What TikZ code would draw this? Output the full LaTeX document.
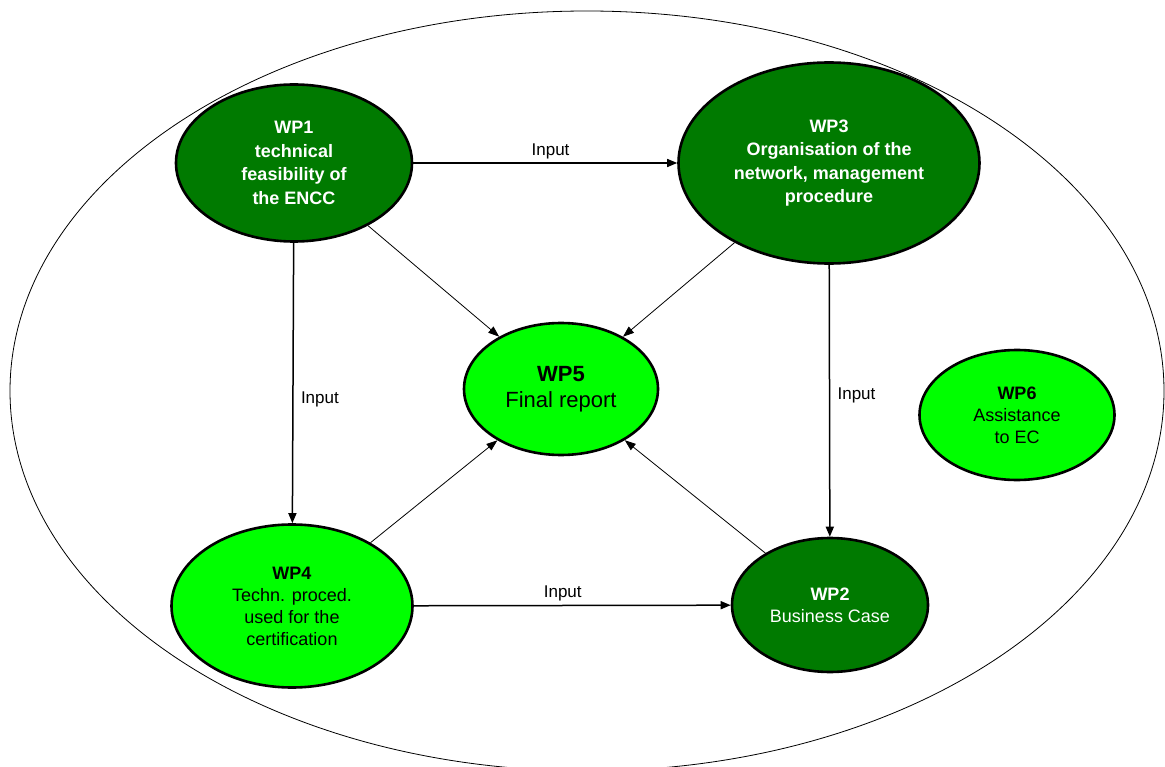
\documentclass[tikz,border=0pt]{standalone}
\usepackage{fontspec}
\setmainfont{Liberation Sans}
\usetikzlibrary{shapes.geometric,arrows.meta}
\definecolor{dkgreen}{RGB}{0,122,0}
\definecolor{ltgreen}{RGB}{0,255,0}
\begin{document}
\begin{tikzpicture}[x=1pt,y=-1pt,
 wp/.style={ellipse, draw=black, line width=2.6pt, inner sep=0pt, align=center},
 dark/.style={wp, fill=dkgreen, text=white, font=\fontsize{18}{23.5}\selectfont\bfseries},
 light/.style={wp, fill=ltgreen, text=black, font=\fontsize{18}{22}\selectfont},
 inarrow/.style={line width=1.5pt, -{Triangle[length=10pt,width=8pt]}},
 thinarrow/.style={line width=0.8pt, -{Triangle[length=11pt,width=8pt]}},
 lbl/.style={font=\fontsize{17}{20}\selectfont}]
\useasboundingbox (0,0) rectangle (1165,767);
\clip (0,0) rectangle (1165,767);
\draw[line width=0.8pt] (587,391) ellipse [x radius=577, y radius=380];

\node[dark, minimum width=236pt, minimum height=157pt] (wp1) at (294,163)
  {WP1\\technical\\feasibility of\\the ENCC};
\node[dark, minimum width=301pt, minimum height=201pt] (wp3) at (829,163)
  {WP3\\Organisation of the\\network, management\\procedure};
\node[light, minimum width=194pt, minimum height=132pt, font=\fontsize{22}{26}\selectfont] (wp5) at (561,389)
  {\textbf{WP5}\\Final report};
\node[light, minimum width=195pt, minimum height=130pt] (wp6) at (1017,415)
  {\textbf{WP6}\\Assistance\\to EC};
\node[light, minimum width=241pt, minimum height=163pt] (wp4) at (292,606)
  {\textbf{WP4}\\Techn. proced.\\used for the\\certification};
\node[dark, minimum width=196pt, minimum height=134pt, font=\fontsize{18}{22}\selectfont] (wp2) at (830,605)
  {\textbf{WP2}\\\mdseries Business Case};

\draw[inarrow] (wp1) -- node[lbl, above, pos=0.52] {Input} (wp3);
\draw[inarrow] (wp1) -- node[lbl, right, pos=0.56, xshift=4pt] {Input} (wp4);
\draw[inarrow] (wp3) -- node[lbl, right, pos=0.48, xshift=4pt] {Input} (wp2);
\draw[inarrow] (wp4) -- node[lbl, above, pos=0.47] {Input} (wp2);

\draw[thinarrow] (wp1) -- (wp5);
\draw[thinarrow] (wp3) -- (wp5);
\draw[thinarrow] (wp4) -- (wp5);
\draw[thinarrow] (wp2) -- (wp5);
\end{tikzpicture}
\end{document}
